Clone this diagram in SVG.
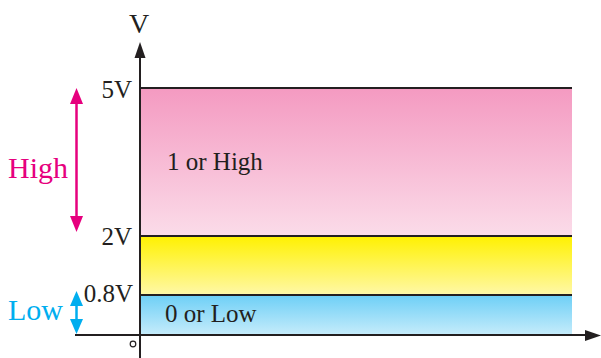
<svg xmlns="http://www.w3.org/2000/svg" width="601" height="358" viewBox="0 0 601 358">
<style>
.t{font-family:"Liberation Serif","Times New Roman",serif;fill:#231f20}
.band{stroke:#231f20;stroke-width:2;fill:none}
.ax{stroke:#231f20;stroke-width:2;fill:none}
</style>
<defs>
<linearGradient id="gp" x1="0" y1="0" x2="0" y2="1"><stop offset="0" stop-color="#f49ac1"/><stop offset="1" stop-color="#fbdce9"/></linearGradient>
<linearGradient id="gy" x1="0" y1="0" x2="0" y2="1"><stop offset="0" stop-color="#fff100"/><stop offset="1" stop-color="#fff8a8"/></linearGradient>
<linearGradient id="gb" x1="0" y1="0" x2="0" y2="1"><stop offset="0" stop-color="#6dcff6"/><stop offset="1" stop-color="#c6ecfb"/></linearGradient>
</defs>
<g id="regions">
<rect x="140" y="88" width="432" height="148" fill="url(#gp)"/>
<rect x="140" y="236" width="432" height="59" fill="url(#gy)"/>
<rect x="140" y="295" width="432" height="40" fill="url(#gb)"/>
<line class="band" x1="140" y1="88" x2="572" y2="88"/>
<line class="band" x1="140" y1="236" x2="572" y2="236"/>
<line class="band" x1="140" y1="295" x2="572" y2="295"/>
</g>
<g id="axes">
<line class="ax" x1="140" y1="56" x2="140" y2="358"/>
<polygon points="140,42 134.5,58 145.5,58" fill="#231f20"/>
<line class="ax" x1="75" y1="335" x2="588" y2="335"/>
<polygon points="601,335.5 585,330 585,341" fill="#231f20"/>
<circle cx="133" cy="344" r="2.8" fill="none" stroke="#231f20" stroke-width="1.2"/>
</g>
<g id="arrows">
<line x1="76.5" y1="100" x2="76.5" y2="220" stroke="#e6007e" stroke-width="2.5"/>
<polygon points="76.5,88 70,104 83,104" fill="#e6007e"/>
<polygon points="76.5,232 70,216 83,216" fill="#e6007e"/>
<line x1="76.5" y1="302" x2="76.5" y2="323" stroke="#00aeef" stroke-width="2.5"/>
<polygon points="76.5,291 70,306 83,306" fill="#00aeef"/>
<polygon points="76.5,334 70,319 83,319" fill="#00aeef"/>
</g>
<g id="labels">
<text class="t" x="139" y="33" font-size="28" text-anchor="middle">V</text>
<text class="t" x="132" y="98" font-size="25" text-anchor="end">5V</text>
<text class="t" x="132" y="245" font-size="25" text-anchor="end">2V</text>
<text class="t" x="133" y="302" font-size="25" text-anchor="end">0.8V</text>
<text class="t" x="167" y="170" font-size="25">1 or High</text>
<text class="t" x="165" y="322" font-size="25">0 or Low</text>
<text x="8" y="178" font-size="30" font-family="Liberation Serif,serif" fill="#e6007e">High</text>
<text x="8" y="320" font-size="30" font-family="Liberation Serif,serif" fill="#00aeef">Low</text>
</g>
</svg>
